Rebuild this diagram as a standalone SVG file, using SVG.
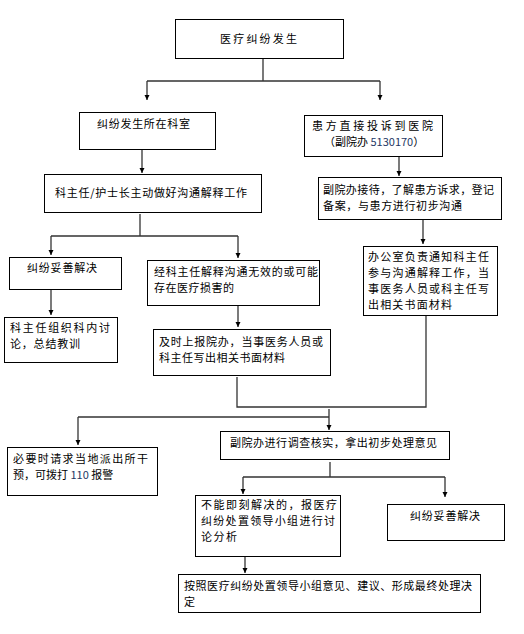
<svg xmlns="http://www.w3.org/2000/svg" width="524" height="634" viewBox="0 0 524 634">
<style>
.box{fill:#fff;stroke:#000;stroke-width:1}
.t{font-family:"Noto Sans CJK SC","Liberation Sans",sans-serif;font-size:11px;fill:#000}
.n{fill:#1F3864}
.c{fill:none;stroke:#333;stroke-width:1.3}
</style>
<defs>
<marker id="ad" markerUnits="userSpaceOnUse" markerWidth="6" markerHeight="6" refX="3" refY="6" orient="0" viewBox="0 0 6 6">
<path d="M0.5,1 L5.5,1 L3,6 Z" fill="#000"/>
</marker>
</defs>
<rect width="524" height="634" fill="#fff"/>
<g id="connectors">
<path class="c" d="M263,59 V81 M147,81 H380"/>
<path class="c" d="M147,81 V100" marker-end="url(#ad)"/>
<path class="c" d="M380,81 V100" marker-end="url(#ad)"/>
<path class="c" d="M142,149 V173" marker-end="url(#ad)"/>
<path class="c" d="M399,156 V176" marker-end="url(#ad)"/>
<path class="c" d="M140,214 V236 M51,236 H238"/>
<path class="c" d="M51,236 V255" marker-end="url(#ad)"/>
<path class="c" d="M238,236 V258" marker-end="url(#ad)"/>
<path class="c" d="M423,219 V244" marker-end="url(#ad)"/>
<path class="c" d="M51,289 V315" marker-end="url(#ad)"/>
<path class="c" d="M238,305 V327" marker-end="url(#ad)"/>
<path class="c" d="M237,377 V407 H426 V315"/>
<path class="c" d="M329,409 V430" marker-end="url(#ad)"/>
<path class="c" d="M78,417 H329"/>
<path class="c" d="M78,417 V445" marker-end="url(#ad)"/>
<path class="c" d="M330,462 V477 M243,477 H445"/>
<path class="c" d="M243,477 V494" marker-end="url(#ad)"/>
<path class="c" d="M445,477 V497" marker-end="url(#ad)"/>
<path class="c" d="M245,556 V573" marker-end="url(#ad)"/>
</g>
<g id="n1"><rect class="box" x="175.5" y="19.5" width="168" height="39"/>
<text class="t" x="220" y="43" textLength="77" lengthAdjust="spacing">医疗纠纷发生</text></g>
<g id="n2"><rect class="box" x="79.5" y="112.5" width="136" height="37"/>
<text class="t" x="97" y="128" textLength="93" lengthAdjust="spacing">纠纷发生所在科室</text></g>
<g id="n3"><rect class="box" x="304.5" y="115.5" width="138" height="41"/>
<text class="t" x="312" y="130" textLength="121" lengthAdjust="spacing">患方直接投诉到医院</text>
<text class="t" x="324" y="146">（副院办 <tspan class="n">5130170</tspan>）</text></g>
<g id="n4"><rect class="box" x="44.5" y="174.5" width="217" height="38"/>
<text class="t" x="55" y="197" textLength="192" lengthAdjust="spacing">科主任/护士长主动做好沟通解释工作</text></g>
<g id="n5"><rect class="box" x="318.5" y="177.5" width="183" height="42"/>
<text class="t" x="323" y="194" textLength="171" lengthAdjust="spacing">副院办接待，了解患方诉求，登记</text>
<text class="t" x="323" y="210" textLength="139" lengthAdjust="spacing">备案，与患方进行初步沟通</text></g>
<g id="n6"><rect class="box" x="9.5" y="257.5" width="112" height="32"/>
<text class="t" x="27" y="272" textLength="70" lengthAdjust="spacing">纠纷妥善解决</text></g>
<g id="n7"><rect class="box" x="147.5" y="260.5" width="172" height="45"/>
<text class="t" x="154" y="276" textLength="164" lengthAdjust="spacing">经科主任解释沟通无效的或可能</text>
<text class="t" x="154" y="292" textLength="80" lengthAdjust="spacing">存在医疗损害的</text></g>
<g id="n8"><rect class="box" x="363.5" y="246.5" width="134" height="69"/>
<text class="t" x="368" y="261" textLength="121" lengthAdjust="spacing">办公室负责通知科主任</text>
<text class="t" x="368" y="277" textLength="121" lengthAdjust="spacing">参与沟通解释工作，当</text>
<text class="t" x="368" y="293" textLength="121" lengthAdjust="spacing">事医务人员或科主任写</text>
<text class="t" x="368" y="309" textLength="84" lengthAdjust="spacing">出相关书面材料</text></g>
<g id="n9"><rect class="box" x="4.5" y="317.5" width="113" height="45"/>
<text class="t" x="10" y="332" textLength="100" lengthAdjust="spacing">科主任组织科内讨</text>
<text class="t" x="10" y="348" textLength="70" lengthAdjust="spacing">论，总结教训</text></g>
<g id="n10"><rect class="box" x="153.5" y="329.5" width="177" height="46"/>
<text class="t" x="159" y="346" textLength="164" lengthAdjust="spacing">及时上报院办，当事医务人员或</text>
<text class="t" x="159" y="362" textLength="126" lengthAdjust="spacing">科主任写出相关书面材料</text></g>
<g id="n11"><rect class="box" x="7.5" y="447.5" width="150" height="48"/>
<text class="t" x="13" y="463" textLength="135" lengthAdjust="spacing">必要时请求当地派出所干</text>
<text class="t" x="13" y="479">预，可拨打 <tspan class="n">110</tspan> 报警</text></g>
<g id="n12"><rect class="box" x="220.5" y="431.5" width="229" height="28"/>
<text class="t" x="230" y="447" textLength="207" lengthAdjust="spacing">副院办进行调查核实，拿出初步处理意见</text></g>
<g id="n13"><rect class="box" x="195.5" y="495.5" width="145" height="61"/>
<text class="t" x="201" y="509" textLength="136" lengthAdjust="spacing">不能即刻解决的，报医疗</text>
<text class="t" x="201" y="525" textLength="134" lengthAdjust="spacing">纠纷处置领导小组进行讨</text>
<text class="t" x="201" y="541" textLength="36" lengthAdjust="spacing">论分析</text></g>
<g id="n14"><rect class="box" x="387.5" y="504.5" width="117" height="36"/>
<text class="t" x="410" y="520" textLength="70" lengthAdjust="spacing">纠纷妥善解决</text></g>
<g id="n15"><rect class="box" x="178.5" y="574.5" width="302" height="38"/>
<text class="t" x="184" y="590" textLength="288" lengthAdjust="spacing">按照医疗纠纷处置领导小组意见、建议、形成最终处理决</text>
<text class="t" x="184" y="606">定</text></g>
</svg>
